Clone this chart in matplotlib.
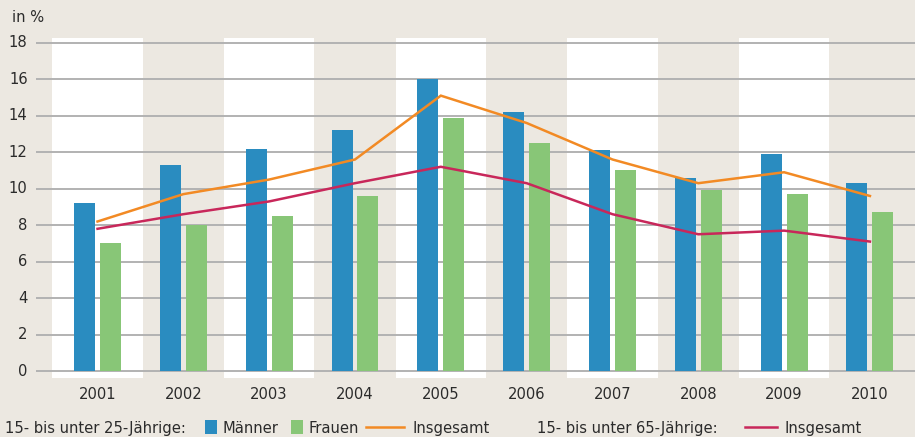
import matplotlib
matplotlib.use("Agg")
import matplotlib.pyplot as plt
from matplotlib.patches import Rectangle
from matplotlib.lines import Line2D
import numpy as np

years = ["2001", "2002", "2003", "2004", "2005", "2006", "2007", "2008", "2009", "2010"]
maenner = [9.2, 11.3, 12.2, 13.2, 16.0, 14.2, 12.1, 10.6, 11.9, 10.3]
frauen = [7.0, 8.0, 8.5, 9.6, 13.9, 12.5, 11.0, 9.9, 9.7, 8.7]
insg_25 = [8.2, 9.7, 10.5, 11.6, 15.1, 13.6, 11.6, 10.3, 10.9, 9.6]
insg_65 = [7.8, 8.6, 9.3, 10.3, 11.2, 10.3, 8.6, 7.5, 7.7, 7.1]
yticks = [0, 2, 4, 6, 8, 10, 12, 14, 16, 18]

BG = "#ECE8E1"
BLUE = "#2A8CC0"
GREEN = "#88C677"
ORANGE = "#F28A24"
RED = "#C8275A"
GRID = "#B2B2B2"
TXT = "#2B2B2B"

FAM = ["Liberation Sans Narrow", "DejaVu Sans"]
plt.rcParams["font.family"] = FAM
plt.rcParams["font.stretch"] = "condensed"

W, H = 915, 437
fig = plt.figure(figsize=(W / 100, H / 100), dpi=100, facecolor=BG)
ax = fig.add_axes([36 / W, 1 - 378 / H, 1 - 36 / W, (378 - 38) / H])
ax.set_facecolor(BG)
for s in ax.spines.values():
    s.set_visible(False)

x = np.arange(len(years))
ax.set_xlim(-0.717, 9.525)
ax.set_ylim(-0.38, 18.26)

# alternating white bands
for i in range(0, len(years), 2):
    ax.axvspan(i - 0.525, i + 0.525, color="white", zorder=0, lw=0)

# gridlines
for t in yticks:
    ax.axhline(t, color=GRID, lw=1.4, zorder=1)

bw = 0.245
off = 0.151
ax.bar(x - off, maenner, width=bw, color=BLUE, zorder=2, lw=0)
ax.bar(x + off, frauen, width=bw, color=GREEN, zorder=2, lw=0)
ax.plot(x, insg_25, color=ORANGE, lw=1.8, zorder=3, solid_joinstyle="miter")
ax.plot(x, insg_65, color=RED, lw=1.8, zorder=3, solid_joinstyle="miter")

ax.set_xticks([])
ax.set_yticks([])

fs = 11.8
ytr = ax.get_yaxis_transform()
for t in yticks:
    ax.text(-0.0095, t, str(t), transform=ytr, ha="right", va="center",
            fontsize=fs, color=TXT, clip_on=False)

for i, yr in enumerate(years):
    ax.text(i, -1.3, yr, ha="center", va="center", fontsize=fs, color=TXT, clip_on=False)

fig.text(12 / W, 1 - 22 / H, "in %", ha="left", va="baseline", fontsize=fs, color=TXT)

# legend
ly = 1 - 433 / H
def ftxt(px, s):
    fig.text(px / W, ly, s, ha="left", va="baseline", fontsize=fs, color=TXT)

ftxt(5, "15- bis unter 25-Jährige:")
fig.patches.append(Rectangle((205 / W, 1 - 434 / H), 12 / W, 14 / H, transform=fig.transFigure,
                             color=BLUE, lw=0))
ftxt(222, "Männer")
fig.patches.append(Rectangle((291 / W, 1 - 434 / H), 12 / W, 14 / H, transform=fig.transFigure,
                             color=GREEN, lw=0))
ftxt(308, "Frauen")
fig.lines.append(Line2D([366 / W, 404 / W], [1 - 427 / H] * 2, transform=fig.transFigure,
                        color=ORANGE, lw=1.8))
ftxt(412, "Insgesamt")
ftxt(537, "15- bis unter 65-Jährige:")
fig.lines.append(Line2D([745 / W, 777 / W], [1 - 427 / H] * 2, transform=fig.transFigure,
                        color=RED, lw=1.8))
ftxt(785, "Insgesamt")

fig.savefig("out.png", dpi=100, facecolor=BG)
